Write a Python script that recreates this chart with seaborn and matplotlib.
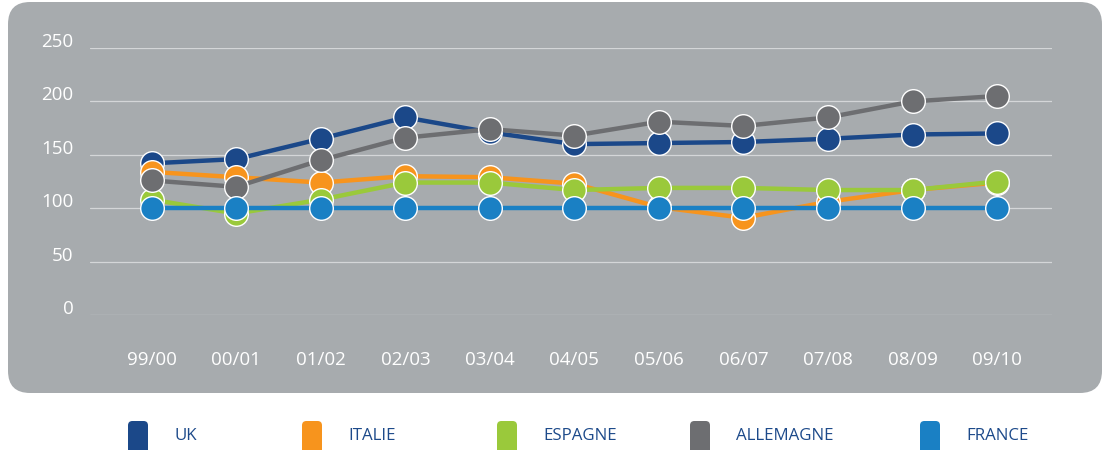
import pandas as pd
import matplotlib.pyplot as plt
import matplotlib.transforms as mtransforms
import seaborn as sns
from matplotlib.patches import FancyBboxPatch

# Données
saisons = ["99/00", "00/01", "01/02", "02/03", "03/04", "04/05",
           "05/06", "06/07", "07/08", "08/09", "09/10"]
uk = [142, 146, 165, 185, 171, 160, 161, 162, 165, 169, 170]
italie = [134, 129, 124, 130, 129, 123, 101, 91, 106, 117, 124]
espagne = [108, 95, 108, 124, 124, 117, 119, 119, 117, 117, 125]
allemagne = [126, 120, 145, 166, 174, 168, 181, 177, 185, 200, 205]
france = [100, 100, 100, 100, 100, 100, 100, 100, 100, 100, 100]

pays = ["UK", "ITALIE", "ESPAGNE", "ALLEMAGNE", "FRANCE"]
couleurs = ["#1b4889", "#f7941d", "#9ac93b", "#6d6e71", "#1a80c4"]
yticks = [0, 50, 100, 150, 200, 250]

rows = []
for nom, vals in zip(pays, [uk, italie, espagne, allemagne, france]):
    for s, v in zip(saisons, vals):
        rows.append({"saison": s, "pays": nom, "valeur": v})
df = pd.DataFrame(rows)

sns.set_style("white")
plt.rcParams["font.family"] = ["Open Sans", "DejaVu Sans"]

fig = plt.figure(figsize=(11.06, 4.5), dpi=100)
W, H = 1106, 450

# fond gris arrondi
fond = FancyBboxPatch((8 / W, (H - 393) / H), (1102 - 8) / W, (393 - 2) / H,
                      boxstyle="round,pad=0,rounding_size=0.02",
                      transform=fig.transFigure, facecolor="#a7abae",
                      edgecolor="none", mutation_aspect=W / H, zorder=-5)
fig.patches.append(fond)

ax = fig.add_axes([90 / W, (H - 315) / H, (1052 - 90) / W, (315 - 48) / H])
ax.set_facecolor("none")

for yv in yticks:
    ax.axhline(yv, color="#d4d6d8", lw=0.9, zorder=0)

sns.lineplot(data=df, x="saison", y="valeur", hue="pays", hue_order=pays,
             palette=couleurs, sort=False, lw=3.2, marker="o", markersize=17,
             markeredgecolor="white", markeredgewidth=1.0, legend=False,
             ax=ax, clip_on=False)

ax.set_xlim(-0.73, 10.65)
ax.set_ylim(0, 250)
ax.set_yticks(yticks)
ax.set_yticklabels([str(v) for v in yticks], va="center")
ax.tick_params(axis="y", length=0, pad=12, labelcolor="white", labelsize=13.5)
ax.tick_params(axis="x", length=0, pad=26, labelcolor="white", labelsize=13.5)
ax.set_xlabel("")
ax.set_ylabel("")
sns.despine(ax=ax, left=True, bottom=True)

# remonter un peu les étiquettes de l'axe y
decal = mtransforms.ScaledTranslation(0, 6 / 100, fig.dpi_scale_trans)
for lab in ax.get_yticklabels():
    lab.set_transform(lab.get_transform() + decal)

# légende
leg_x = [128, 302, 497, 690, 920]
for nom, c, x in zip(pays, couleurs, leg_x):
    p = FancyBboxPatch((x / W, -0.02), 20 / W, (H - 421) / H + 0.02,
                       boxstyle="round,pad=0,rounding_size=0.004",
                       transform=fig.transFigure, facecolor=c,
                       edgecolor="none", mutation_aspect=W / H)
    fig.patches.append(p)
    fig.text((x + 46) / W, (H - 436) / H, nom, color="#1d4a8a",
             fontsize=12.2, va="center", ha="left")

fig.savefig("out.png", dpi=100, facecolor="white")
